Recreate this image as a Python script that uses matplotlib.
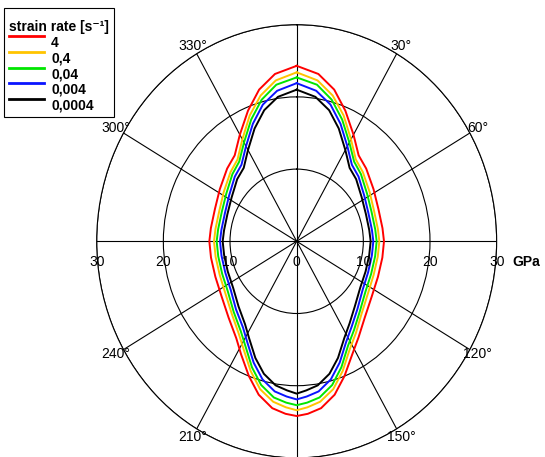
import numpy as np
import matplotlib
matplotlib.use("Agg")
import matplotlib.pyplot as plt

plt.rcParams["font.family"] = ["Liberation Sans", "DejaVu Sans"]

# angle (deg, clockwise from north) and modulus radius (GPa) for each strain rate
theta_deg = [0, 8, 15, 22, 30, 38, 46, 58, 70, 82, 90, 100, 112, 124, 136, 145, 152,
             159, 165, 171, 176, 180, 184, 189, 195, 201, 208, 214, 224, 236, 248,
             260, 270, 278, 290, 302, 314, 322, 330, 338, 345, 352, 360]

r_4 = [24.3, 23.4, 21.75, 19.5, 17.05, 15.1, 14.5, 13.6, 13.05, 13.0, 13.1, 13.05, 13.15,
       13.6, 14.7, 16.2, 17.75, 20.0, 22.0, 23.4, 23.95, 24.2, 23.95, 23.4, 22.0, 20.0,
       17.75, 16.2, 14.7, 13.6, 13.15, 13.05, 13.1, 13.0, 13.05, 13.6, 14.5, 15.1, 17.05,
       19.5, 21.75, 23.4, 24.3]
r_04 = [23.4, 22.5, 20.9, 18.8, 16.3, 14.4, 13.8, 12.9, 12.35, 12.3, 12.4, 12.35, 12.45,
        12.9, 14.0, 15.5, 16.95, 19.25, 21.2, 22.5, 23.05, 23.4, 23.05, 22.5, 21.2, 19.25,
        16.95, 15.5, 14.0, 12.9, 12.45, 12.35, 12.4, 12.3, 12.35, 12.9, 13.8, 14.4, 16.3,
        18.8, 20.9, 22.5, 23.4]
r_004 = [22.7, 21.9, 20.3, 18.2, 15.8, 14.0, 13.4, 12.45, 11.95, 11.9, 12.0, 11.95, 12.05,
         12.45, 13.6, 15.0, 16.4, 18.7, 20.6, 21.9, 22.4, 22.7, 22.4, 21.9, 20.6, 18.7,
         16.4, 15.0, 13.6, 12.45, 12.05, 11.95, 12.0, 11.9, 11.95, 12.45, 13.4, 14.0, 15.8,
         18.2, 20.3, 21.9, 22.7]
r_0004 = [21.9, 21.05, 19.6, 17.55, 15.2, 13.45, 12.9, 11.95, 11.45, 11.4, 11.5, 11.45,
          11.55, 11.95, 13.1, 14.4, 15.8, 18.0, 19.8, 21.05, 21.55, 21.9, 21.55, 21.05,
          19.8, 18.0, 15.8, 14.4, 13.1, 11.95, 11.55, 11.45, 11.5, 11.4, 11.45, 11.95,
          12.9, 13.45, 15.2, 17.55, 19.6, 21.05, 21.9]
r_00004 = [21.0, 20.2, 18.8, 16.85, 14.6, 12.9, 12.4, 11.5, 11.05, 11.0, 11.1, 11.05,
           11.15, 11.5, 12.55, 13.85, 15.2, 17.3, 19.0, 20.2, 20.7, 21.1, 20.7, 20.2,
           19.0, 17.3, 15.2, 13.85, 12.55, 11.5, 11.15, 11.05, 11.1, 11.0, 11.05, 11.5,
           12.4, 12.9, 14.6, 16.85, 18.8, 20.2, 21.0]

rate_labels = ["4", "0,4", "0,04", "0,004", "0,0004"]
series = [r_4, r_04, r_004, r_0004, r_00004]
colors = ["#ff0000", "#ffc400", "#00e600", "#0a14ff", "#000000"]

theta_label_angles = [30, 60, 120, 150, 210, 240, 300, 330]
r_ticks = [10, 20, 30]

fig = plt.figure(figsize=(5.45, 4.57), dpi=100)
ax = fig.add_axes([0.1774, -0.002, 0.7339, 0.948], projection="polar")
ax.set_theta_zero_location("N")
ax.set_theta_direction(-1)
ax.set_aspect("auto")
ax.set_rlim(0, 30)
ax.set_thetagrids(range(0, 360, 30), labels=[""] * 12)
ax.set_rgrids(r_ticks, labels=[""] * len(r_ticks))
ax.grid(color="black", lw=0.8)
ax.spines["polar"].set_color("black")
ax.spines["polar"].set_linewidth(0.8)

theta = np.deg2rad(theta_deg)
for r, c, lab in zip(series, colors, rate_labels):
    ax.plot(theta, r, color=c, lw=1.4, label=lab)

for ang in theta_label_angles:
    ax.text(np.deg2rad(ang), 31.3, f"{ang}°", ha="center", va="center",
            fontsize=10, clip_on=False)

# radial scale written along the horizontal axis
for side in (90, 270):
    for rv in r_ticks:
        ax.annotate(str(rv), xy=(np.deg2rad(side), rv), xytext=(0, -15),
                    textcoords="offset points", ha="center", va="center", fontsize=10,
                    annotation_clip=False)
ax.annotate("0", xy=(0, 0), xytext=(0, -15), textcoords="offset points",
            ha="center", va="center", fontsize=10)
ax.annotate("GPa", xy=(np.deg2rad(90), 30), xytext=(11, -15), textcoords="offset points",
            ha="left", va="center", fontsize=10, fontweight="bold", annotation_clip=False)

# leading blank line + tight linespacing gives the title some room above it
leg = fig.legend(loc="upper left", bbox_to_anchor=(4 / 545, 1 - 8 / 457),
                 title="\nstrain rate [s\u207b\u00b9]",
                 title_fontproperties={"weight": "bold", "size": 10},
                 prop={"weight": "bold", "size": 10},
                 frameon=True, fancybox=False, edgecolor="black", framealpha=1,
                 handlelength=2.5, labelspacing=0.12, borderpad=0.35,
                 handletextpad=0.55, borderaxespad=0, alignment="left")
leg.get_title().set_linespacing(0.38)
leg.get_frame().set_linewidth(0.8)
for line in leg.get_lines():
    line.set_linewidth(2)
    yd = line.get_ydata()
    line.set_ydata([y + 4 for y in yd])

fig.savefig("out.png", dpi=100)
